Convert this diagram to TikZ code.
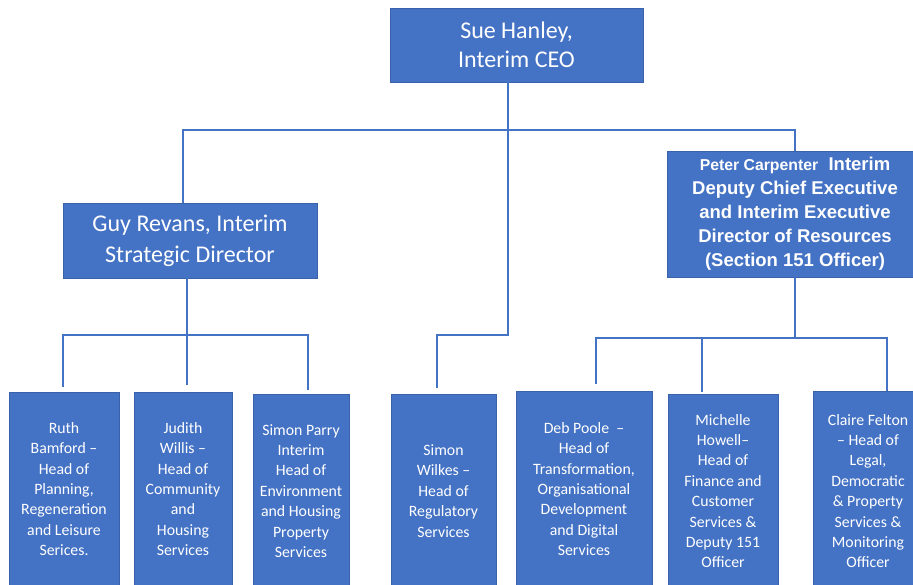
\documentclass[tikz,border=0pt]{standalone}
\usepackage{fontspec}
\newfontfamily\calib[Ligatures=TeX]{Carlito}
\newfontfamily\arialf[Ligatures=TeX]{Liberation Sans}
\definecolor{boxblue}{HTML}{4472C4}
\definecolor{boxedge}{HTML}{3A62AA}
\definecolor{linkblue}{HTML}{4472C4}
\begin{document}
\begin{tikzpicture}[x=1pt,y=-1pt,
  orgbox/.style={rectangle, fill=boxblue, draw=boxedge, line width=0.8pt, text=white, align=center, inner sep=0pt},
  topbox/.style={orgbox, font=\calib\fontsize{24}{29}\selectfont},
  midbox/.style={orgbox, font=\calib\fontsize{24}{31}\selectfont},
  leafbox/.style={orgbox, font=\calib\fontsize{15.8}{20.4}\selectfont, minimum height=194pt},
  link/.style={draw=linkblue, line width=1.8pt}]
\useasboundingbox (0,0) rectangle (913,584);
\clip (0,0) rectangle (913,584);
\fill[white] (0,0) rectangle (913,584);

\node[topbox, minimum width=253pt, minimum height=74pt] (ceo) at (516.5,45) {Sue Hanley,\\Interim CEO};
\node[midbox, minimum width=254pt, minimum height=75pt] (guy) at (190,240.5) {Guy Revans, Interim\\Strategic Director};
\node[orgbox, minimum width=256pt, minimum height=126pt, font=\arialf\bfseries\fontsize{18.5}{24}\selectfont] (peter) at (795,214)
  {{\fontsize{15.8}{24}\selectfont Peter Carpenter}\ \ Interim\\Deputy Chief Executive\\and Interim Executive\\Director of Resources\\(Section 151 Officer)};

\node[leafbox, minimum width=110pt] (ruth) at (64,489) {Ruth\\Bamford –\\Head of\\Planning,\\Regeneration\\and Leisure\\Serices.};
\node[leafbox, minimum width=98pt] (judith) at (183,489) {Judith\\Willis –\\Head of\\Community\\and\\Housing\\Services};
\node[leafbox, minimum width=96pt] (parry) at (301,491) {Simon Parry\\Interim\\Head of\\Environment\\and Housing\\Property\\Services};
\node[leafbox, minimum width=105pt] (wilkes) at (443.5,491) {Simon\\Wilkes –\\Head of\\Regulatory\\Services};
\node[leafbox, minimum width=136pt, minimum height=196pt] (deb) at (584,489) {Deb Poole\ \ –\\Head of\\Transformation,\\Organisational\\Development\\and Digital\\Services};
\node[leafbox, minimum width=110pt] (michelle) at (723,491) {Michelle\\Howell–\\Head of\\Finance and\\Customer\\Services \&\\Deputy 151\\Officer};
\node[leafbox, minimum width=110pt, minimum height=200pt] (claire) at (868,491) {Claire Felton\\– Head of\\Legal,\\Democratic\\\& Property\\Services \&\\Monitoring\\Officer};

% junction coordinates
\coordinate (cx) at (508,130);
\coordinate (gx) at (183,130);
\coordinate (px) at (795,130);
\coordinate (wk) at (437,335);
\coordinate (gb) at (187,335);
\coordinate (l1) at (63,335);
\coordinate (l3) at (308,335);
\coordinate (pb) at (795,338);
\coordinate (r1) at (596,338);
\coordinate (r2) at (702,338);
\coordinate (r3) at (887,338);

% top level
\draw[link] (ceo.south -| cx) -- (cx);
\draw[link] (guy.north -| gx) |- (px) -- (peter.north -| px);
\draw[link] (cx) |- (wk) -- ([yshift=6pt]wilkes.north -| wk);

% left group
\draw[link] (guy.south -| gb) -- (gb);
\draw[link] ([yshift=5pt]ruth.north -| l1) |- (l3) -- ([yshift=4pt]parry.north -| l3);
\draw[link] (gb) -- ([yshift=7pt]judith.north -| gb);

% right group
\draw[link] (peter.south -| pb) -- (pb);
\draw[link] ([yshift=7pt]deb.north -| r1) |- (r3) -- (claire.north -| r3);
\draw[link] (r2) -- ([yshift=2pt]michelle.north -| r2);
\end{tikzpicture}
\end{document}
